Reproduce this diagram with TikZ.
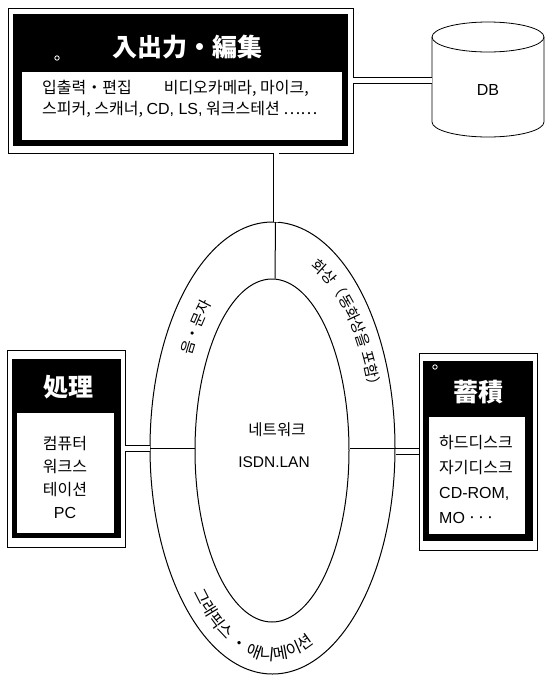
\documentclass[tikz,border=0pt]{standalone}
\usepackage{fontspec}
\usetikzlibrary{decorations.text,shapes.geometric}
\newfontfamily\kr{Noto Sans CJK KR}
\newfontfamily\jp{Noto Sans CJK JP}
\newfontfamily\lat{Liberation Sans}
\begin{document}
\begin{tikzpicture}[x=1pt,y=1pt,
  wh/.style 2 args={minimum width=#1, minimum height=#2, anchor=north west, inner sep=0pt, outer sep=0pt},
  frame/.style={draw=black, line width=0.8pt, fill=white},
  blackpanel/.style={fill=black, draw=none},
  whitepanel/.style={fill=white, draw=none},
  titletext/.style={text=white, font=\jp\bfseries\fontsize{25}{25}\selectfont, inner sep=0pt},
  body/.style={font=\kr\fontsize{16}{21}\selectfont, inner sep=0pt},
  link/.style={double, double distance=5pt, line width=0.8pt},
  ring/.style={line width=1pt},
  wdot/.style={draw=white, line width=0.8pt}
]
\useasboundingbox (0,0) rectangle (545,-675);

% ring
\node[ring, draw, ellipse, minimum width=245pt, minimum height=452pt, inner sep=0pt] (outer) at (272.5,-448) {};
\node[ring, draw, ellipse, minimum width=154pt, minimum height=343pt, inner sep=0pt] (inner) at (272,-450.5) {};
\draw[ring] ([xshift=3pt]outer.north) -- ([xshift=3pt]inner.north);
\draw[ring] (outer.west) -- (outer.west -| inner.west);
\draw[ring] (outer.east) -- (outer.east -| inner.east);

\node[font=\kr\fontsize{15.5}{15.5}\selectfont, inner sep=0pt] (net1) at (277,-430) {네트워크};
\node[font=\lat\fontsize{15.5}{15.5}\selectfont, inner sep=0pt] (net2) at (274,-462) {ISDN.LAN};

\path[shift={(272,-448)}, decorate, decoration={text along path, text={|\kr\fontsize{15}{15}\selectfont|음・문자}}]
  (151:92 and 190) arc[start angle=151, end angle=92, x radius=92, y radius=190];
\path[shift={(272,-448)}, decorate, decoration={text along path, text={|\kr\fontsize{15}{15}\selectfont|화상（동화상을 포함）}}]
  (68:102 and 196) arc[start angle=68, end angle=-50, x radius=102, y radius=196];
\path[shift={(272,-447)}, decorate, decoration={text along path, text={|\kr\fontsize{16}{16}\selectfont|그래픽스 ・ 애니메이션}}]
  (223:107 and 213) arc[start angle=223, end angle=350, x radius=107, y radius=213];

% top box
\node[frame, wh={345pt}{145pt}] (topbox) at (8,-8) {};
\node[blackpanel, wh={335pt}{132pt}] (topblack) at (13,-14) {};
\node[whitepanel, wh={320pt}{68pt}] (topwhite) at (22,-72) {};
\node[titletext] (toptitle) at (187,-47) {入出力・編集};
\draw[wdot] (57,-58) circle[radius=2.2];
\node[body, align=left, anchor=west] (toptext) at (42,-98.5)
  {입출력・편집\hspace{2em}비디오카메라, 마이크,\\스피커, 스캐너, {\lat CD, LS,} 워크스테션 ……};

% DB
\node[inner sep=0pt, minimum width=112pt, minimum height=116pt] (db) at (488,-80.5) {};
\filldraw[fill=white, line width=0.8pt] (432,-37) -- (432,-122) arc[start angle=180, end angle=360, x radius=56, y radius=15] -- (544,-37) arc[start angle=0, end angle=180, x radius=56, y radius=15] -- cycle;
\draw[line width=0.8pt] (432,-37) arc[start angle=180, end angle=360, x radius=56, y radius=15];
\node[font=\lat\fontsize{16}{16}\selectfont, inner sep=0pt] (dblabel) at (488,-90) {DB};
\draw[link] (topbox.east) -- (db.west);
\draw[link] ([xshift=3.5pt]topbox.south -| outer.north) -- ([xshift=3.5pt]outer.north);

% left box
\node[frame, wh={118pt}{197pt}] (leftbox) at (7,-350) {};
\node[blackpanel, wh={109pt}{179pt}] (leftblack) at (12,-359) {};
\node[whitepanel, wh={97pt}{120pt}] (leftwhite) at (17,-413) {};
\node[titletext] (lefttitle) at (68,-387) {処理};
\node[body, align=center, font=\kr\fontsize{16}{23}\selectfont] (lefttext) at (65,-477.5) {컴퓨터\\워크스\\테이션\\{\lat PC}};
\draw[link] (leftbox.east) -- (leftbox.east -| outer.west);

% right box
\node[frame, wh={118pt}{197pt}] (rightbox) at (419,-353) {};
\node[blackpanel, wh={110pt}{180pt}] (rightblack) at (423,-361) {};
\node[whitepanel, wh={96pt}{117pt}] (rightwhite) at (429,-417) {};
\node[titletext] (righttitle) at (478,-392) {蓄積};
\draw[wdot] (435,-367) circle[radius=2.2];
\node[body, align=left, anchor=west, font=\kr\fontsize{16}{25}\selectfont] (righttext) at (439,-479.5) {하드디스크\\자기디스크\\{\lat CD-ROM,}\\{\lat MO}\,···};
\draw[link] (rightbox.west) -- (rightbox.west -| outer.east);
\end{tikzpicture}
\end{document}
